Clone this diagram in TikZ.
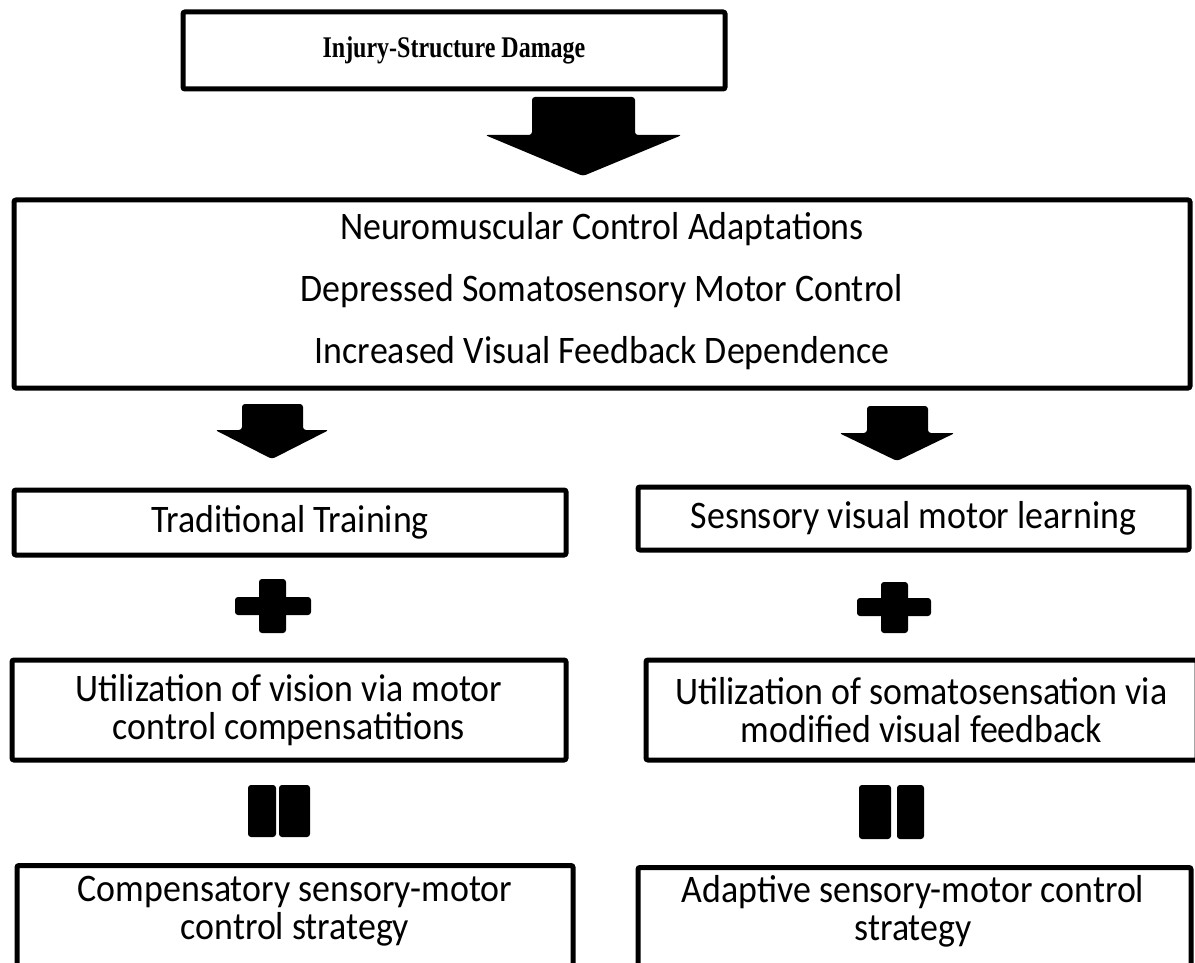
\documentclass[tikz,border=0pt]{standalone}
\usepackage{fontspec}
\setmainfont{Carlito}[FakeStretch=0.92]
\newfontfamily\titlefont{Liberation Serif}[FakeStretch=0.8]
\usetikzlibrary{positioning}

\tikzset{
  box/.style={draw, line width=5pt, rounded corners=2pt, inner sep=0pt, align=center},
  blockshape/.style={fill=black, rounded corners=3pt},
}

\begin{document}
\begin{tikzpicture}[x=1pt, y=-1pt, font=\fontsize{39}{38}\selectfont]
\useasboundingbox (0,0) rectangle (1195,963);

% Top box
\node[box, minimum width=542, minimum height=77,
      font=\titlefont\bfseries\fontsize{30}{34}\selectfont] (injury) at (454,50.5) {Injury-Structure Damage};

% Big arrow
\fill[blockshape] (532,97) -- (635,97) -- (635,135) -- (682,135) -- (583,176) -- (485,135) -- (532,135) -- cycle;

% Main box
\node[box, minimum width=1176, minimum height=188] (adapt) at (602,294) {};
\node[align=center, font=\fontsize{39}{62}\selectfont] (adapttext) at (602,291)
  {Neuromuscular Control Adaptations\\Depressed Somatosensory Motor Control\\Increased Visual Feedback Dependence};

% Small arrows
\fill[blockshape] (242,404) -- (303,404) -- (303,430) -- (329,430) -- (272,459) -- (215,430) -- (242,430) -- cycle;
\fill[blockshape] (867,406) -- (928,406) -- (928,433) -- (955,433) -- (897,461) -- (839,433) -- (867,433) -- cycle;

% Second row
\node[box, minimum width=552, minimum height=65] (trad) at (290,522.5) {Traditional Training};
\node[box, minimum width=551, minimum height=63] (sens) at (913.5,518.5) {Sesnsory visual motor learning};

% Plus signs
\fill[blockshape] (235,597) rectangle (311,615);
\fill[blockshape] (259,579) rectangle (286,633);
\fill[blockshape] (857,598) rectangle (931,616);
\fill[blockshape] (881,582) rectangle (908,633);

% Third row
\node[box, minimum width=554, minimum height=100] (vision) at (289,710)
  {Utilization of vision via motor\\control compensatitions};
\node[box, minimum width=551, minimum height=100] (soma) at (921.5,710)
  {Utilization of somatosensation via\\modified visual feedback};

% Equals signs
\fill[blockshape] (248,785) rectangle (276,837);
\fill[blockshape] (279,785) rectangle (310,837);
\fill[blockshape] (859,785) rectangle (891,839);
\fill[blockshape] (897,785) rectangle (924,839);

% Bottom row (runs off the page)
\node[box, minimum width=556, minimum height=160, anchor=north] (comp) at (295,863) {};
\node[align=center] (comptext) at (295,911) {Compensatory sensory-motor\\control strategy};
\node[box, minimum width=553, minimum height=160, anchor=north] (adaptive) at (914.5,865) {};
\node[align=center] (adaptivetext) at (913,911) {Adaptive sensory-motor control\\strategy};
\end{tikzpicture}
\end{document}
